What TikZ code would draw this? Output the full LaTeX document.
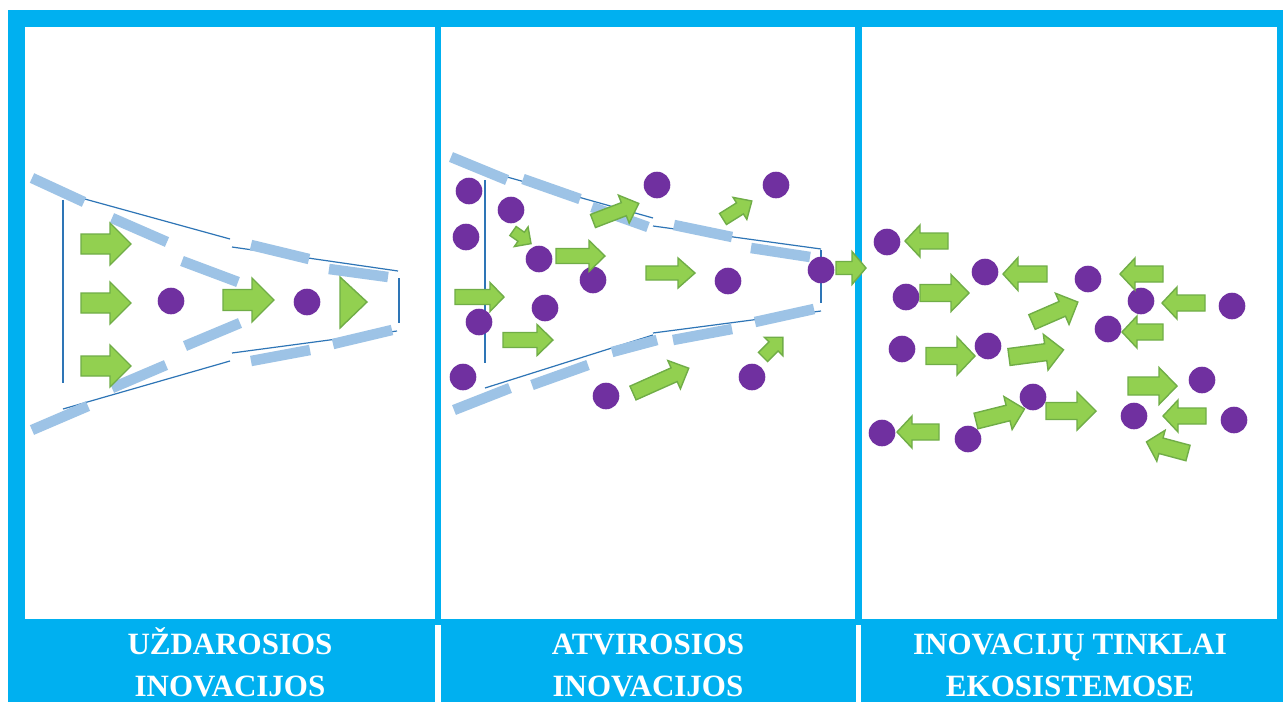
\documentclass[tikz,border=0pt]{standalone}
\usepackage{fontspec}
\setmainfont{Liberation Serif}
\definecolor{frameblue}{HTML}{00B0F0}
\definecolor{guideblue}{HTML}{2E75B6}
\definecolor{dashblue}{HTML}{9DC3E6}
\definecolor{dotpurple}{HTML}{7030A0}
\definecolor{arrowgreen}{HTML}{92D050}
\definecolor{arrowedge}{HTML}{70AD47}
\begin{document}
\begin{tikzpicture}[x=1pt,y=-1pt,
  frame/.style={fill=frameblue},
  panel/.style={fill=white},
  guide/.style={draw=guideblue,line width=1.2pt},
  dashbar/.style={draw=dashblue,line width=10.5pt},
  dot/.style={fill=dotpurple},
  arrowbody/.style={fill=arrowgreen,draw=arrowedge,line width=1.4pt,line join=miter},
  caption/.style={text=white,font=\bfseries\fontsize{31}{38}\selectfont,anchor=base,inner sep=0pt},
  pics/blockarrow/.style n args={4}{code={
    \path[arrowbody] (0,-#2/2) -- ({#1-#4},-#2/2) -- ({#1-#4},-#3/2) -- (#1,0)
      -- ({#1-#4},#3/2) -- ({#1-#4},#2/2) -- (0,#2/2) -- cycle;}}
]
\useasboundingbox (0,0) rectangle (1283,702);

% frame, panels and caption band
\path[frame] (8,10) rectangle (1283,702);
\path[panel] (25,27) rectangle (435,619);
\path[panel] (441,27) rectangle (855,619);
\path[panel] (862,27) rectangle (1277,619);
\path[panel] (435,625) rectangle (441,702);
\path[panel] (856,625) rectangle (861,702);

% ---------- closed innovation funnel ----------
\draw[guide] (63,200) -- (63,383);
\draw[guide] (63,193) -- (230,239);
\draw[guide] (232,247) -- (398,271);
\draw[guide] (399,278) -- (399,323);
\draw[guide] (63,409) -- (230,361);
\draw[guide] (232,353) -- (397,331);

\draw[dashbar] (32,178) -- (84,202);
\draw[dashbar] (112,218) -- (167,242);
\draw[dashbar] (182,261) -- (238,282);
\draw[dashbar] (251,245) -- (309,259);
\draw[dashbar] (329,269) -- (388,277);
\draw[dashbar] (32,430) -- (88,406);
\draw[dashbar] (112,388) -- (166,365);
\draw[dashbar] (185,346) -- (240,323);
\draw[dashbar] (251,361) -- (310,350);
\draw[dashbar] (333,344) -- (392,330);

\fill[dot] (171,301) circle[radius=13.3];
\fill[dot] (307,302) circle[radius=13.3];

\pic at (81,244) {blockarrow={50}{20}{42}{21}};
\pic at (81,303) {blockarrow={50}{20}{42}{21}};
\pic at (81,366) {blockarrow={50}{20}{42}{21}};
\pic at (223,300) {blockarrow={51}{21}{44}{22}};
\path[arrowbody] (340,277) -- (367,302) -- (340,328) -- cycle;

% ---------- open innovation funnel ----------
\draw[guide] (485,180) -- (485,363);
\draw[guide] (500,175) -- (653,218);
\draw[guide] (653,226) -- (821,249);
\draw[guide] (821,250) -- (821,303);
\draw[guide] (485,388) -- (653,335);
\draw[guide] (653,333) -- (821,311);

\draw[dashbar] (451,157) -- (507,180);
\draw[dashbar] (523,179) -- (580,199);
\draw[dashbar] (592,207) -- (648,227);
\draw[dashbar] (674,225) -- (732,237);
\draw[dashbar] (751,248) -- (810,257);
\draw[dashbar] (454,410) -- (510,388);
\draw[dashbar] (532,385) -- (588,365);
\draw[dashbar] (612,352) -- (657,340);
\draw[dashbar] (673,340) -- (732,329);
\draw[dashbar] (755,322) -- (814,309);

\foreach \p in {(469,191),(511,210),(466,237),(539,259),(593,280),(545,308),
  (479,322),(463,377),(606,396),(657,185),(776,185),(728,281),(821,270),(752,377)}
  \fill[dot] \p circle[radius=13.3];

\pic at (455,297) {blockarrow={49}{15}{29}{14}};
\pic at (503,340) {blockarrow={50}{15}{31}{16}};
\pic at (556,256) {blockarrow={49}{15}{31}{16}};
\pic at (646,273) {blockarrow={49}{14}{30}{17}};
\pic[rotate=21] at (593,221) {blockarrow={49}{14}{30}{16}};
\pic[rotate=32] at (723,219) {blockarrow={34}{13}{26}{14}};
\pic[rotate=-35] at (513,231) {blockarrow={22}{11}{24}{12}};
\pic[rotate=24] at (633,393) {blockarrow={61}{15}{31}{16}};
\pic[rotate=45] at (763,357) {blockarrow={28}{13}{26}{13}};
\pic at (836,268) {blockarrow={30}{13}{33}{14}};

% ---------- innovation network ----------
\foreach \p in {(887,242),(985,272),(906,297),(1088,279),(1141,301),(1232,306),
  (1108,329),(902,349),(988,346),(1202,380),(1033,397),(1134,416),(1234,420),
  (882,433),(968,439)}
  \fill[dot] \p circle[radius=13.3];

\pic[rotate=180] at (948,241) {blockarrow={43}{16}{32}{15}};
\pic[rotate=180] at (1047,274) {blockarrow={44}{16}{33}{15}};
\pic at (920,293) {blockarrow={49}{17}{37}{18}};
\pic[rotate=180] at (1163,274) {blockarrow={43}{16}{32}{15}};
\pic[rotate=180] at (1205,303) {blockarrow={43}{16}{32}{15}};
\pic[rotate=180] at (1163,332) {blockarrow={41}{16}{32}{15}};
\pic[rotate=23.5] at (1032,322) {blockarrow={50}{16}{34}{17}};
\pic at (926,356) {blockarrow={49}{17}{38}{18}};
\pic[rotate=7.5] at (1009,357) {blockarrow={55}{17}{36}{18}};
\pic at (1128,386) {blockarrow={49}{18}{37}{18}};
\pic[rotate=180] at (1206,416) {blockarrow={43}{16}{32}{15}};
\pic[rotate=180] at (939,432) {blockarrow={42}{16}{32}{15}};
\pic[rotate=14] at (976,421) {blockarrow={50}{16}{34}{17}};
\pic at (1046,411) {blockarrow={50}{17}{38}{19}};
\pic[rotate=165] at (1188,453) {blockarrow={43}{16}{32}{15}};

% ---------- captions ----------
\node[caption] (cap1a) at (230,654) {UŽDAROSIOS};
\node[caption] (cap1b) at (230,696) {INOVACIJOS};
\node[caption] (cap2a) at (648,654) {ATVIROSIOS};
\node[caption] (cap2b) at (648,696) {INOVACIJOS};
\node[caption] (cap3a) at (1070,654) {INOVACIJŲ TINKLAI};
\node[caption] (cap3b) at (1070,696) {EKOSISTEMOSE};
\end{tikzpicture}
\end{document}
